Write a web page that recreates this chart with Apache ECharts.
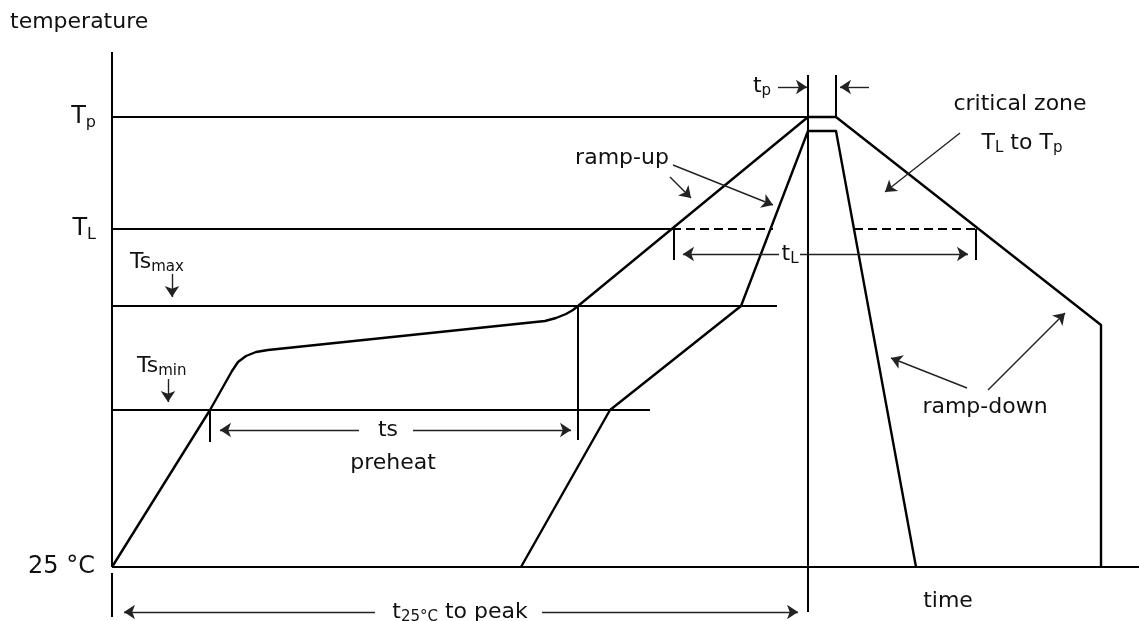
<!DOCTYPE html>
<html>
<head>
<meta charset="utf-8">
<script src="https://cdn.jsdelivr.net/npm/echarts@6/dist/echarts.min.js"></script>
<style>
  html, body { margin: 0; padding: 0; background: #fff; }
  #chart { width: 1139px; height: 621px; }
</style>
</head>
<body>
<div id="chart"></div>
<script>
// Unidades de dibujo: x = tiempo desde el inicio, y = altura sobre la linea de 25 °C
const T25 = 0, TS_MIN = 157, TS_MAX = 261, T_L = 338, T_P = 450;
const T_INNER_TOP = 436;
const T_PEAK_START = 696, T_PEAK_END = 724;

// perfil exterior (limite lento) y perfil interior (limite rapido)
const outerProfile = [
  [0, T25], [98, TS_MIN], [120, 196], [126, 205], [134, 211], [144, 215], [156, 217],
  [433, 246], [444, 249], [454, 253], [461, 257], [466, TS_MAX],
  [T_PEAK_START, T_P], [T_PEAK_END, T_P], [989, 242], [989, T25]
];
const innerProfile = [
  [409, T25], [498, TS_MIN], [629, TS_MAX],
  [T_PEAK_START, T_INNER_TOP], [T_PEAK_END, T_INNER_TOP], [804, T25]
];

// ejes y lineas de referencia
const axisLines = [
  [[0, T25], [0, 515]],
  [[0, T25], [1027, T25]],
  [[0, -6], [0, -50]]
];
const solidGuides = [
  [[0, T_P], [T_PEAK_END, T_P]],
  [[0, T_L], [560, T_L]],
  [[0, TS_MAX], [665, TS_MAX]],
  [[0, TS_MIN], [538, TS_MIN]],
  [[T_PEAK_START, -45], [T_PEAK_START, 492]],
  [[T_PEAK_END, T_P], [T_PEAK_END, 492]],
  [[98, TS_MIN], [98, 125]],
  [[466, TS_MAX], [466, 127]],
  [[562, T_L], [562, 307]],
  [[864, T_L], [864, 307]]
];
const dashedGuides = [
  [[560, T_L], [661, T_L]],
  [[742, T_L], [864, T_L]]
];

// flechas: [desde, hasta], punta al final
const arrows = [
  [[247, 137], [108, 137]], [[301, 137], [459, 137]],
  [[667, 313], [571, 313]], [[688, 313], [856, 313]],
  [[666, 480], [695, 480]], [[757, 480], [728, 480]],
  [[263, -45], [12, -45]], [[430, -45], [686, -45]],
  [[558, 390], [579, 369]], [[561, 402], [661, 362]],
  [[848, 434], [773, 375]],
  [[855, 179], [779, 209]], [[876, 177], [953, 254]],
  [[60, 293], [60, 270]], [[56, 188], [56, 165]]
];

// textos: [x, y, texto, alineacion]
const labels = [
  [-102, 545, '{n|temperature}', 'left'],
  [-16, T_P, '{a|T}{as|p}', 'right'],
  [-16, T_L, '{a|T}{as|L}', 'right'],
  [-17, T25, '{a|25 °C}', 'right'],
  [18, 305, '{m|Ts}{ns|max}', 'left'],
  [25, 201, '{m|Ts}{ns|min}', 'left'],
  [276, 137, '{n|ts}', 'center'],
  [281, 104, '{n|preheat}', 'center'],
  [678, 313, '{n|t}{ns|L}', 'center'],
  [650, 481, '{n|t}{ns|p}', 'center'],
  [510, 409, '{n|ramp-up}', 'center'],
  [908, 463, '{n|critical zone}', 'center'],
  [910, 424, '{m|T}{ns|L}{n| to }{m|T}{ns|p}', 'center'],
  [873, 160, '{n|ramp-down}', 'center'],
  [836, -34, '{n|time}', 'center'],
  [348, -45, '{n|t}{ns|25°C}{n| to peak}', 'center']
];

const FONT = '"DejaVu Sans", "Liberation Sans", Arial, sans-serif';
const INK = '#111';
const rich = {
  a: { fontSize: 24, color: INK, fontFamily: FONT },
  as: { fontSize: 16, color: INK, fontFamily: FONT, padding: [12, 0, 0, 0] },
  m: { fontSize: 22, color: INK, fontFamily: FONT },
  n: { fontSize: 22, color: INK, fontFamily: FONT },
  ns: { fontSize: 15, color: INK, fontFamily: FONT, padding: [10, 0, 0, 0] }
};

const polyline = (paths) => paths.map((p) => ({ coords: p }));

const chart = echarts.init(document.getElementById('chart'), null, { renderer: 'canvas' });
chart.setOption({
  animation: false,
  backgroundColor: '#fff',
  grid: { left: 0, right: 0, top: 0, bottom: 0 },
  xAxis: { type: 'value', min: -112, max: 1027, show: false },
  yAxis: { type: 'value', min: -54, max: 567, show: false },
  series: [
    {
      type: 'lines', coordinateSystem: 'cartesian2d', polyline: true,
      lineStyle: { color: '#000', width: 2, opacity: 1 },
      data: polyline(axisLines.concat(solidGuides))
    },
    {
      type: 'lines', coordinateSystem: 'cartesian2d', polyline: true,
      lineStyle: { color: '#000', width: 2, type: [9, 5], opacity: 1 },
      data: polyline(dashedGuides)
    },
    {
      type: 'lines', coordinateSystem: 'cartesian2d', polyline: true,
      lineStyle: { color: '#000', width: 2.4, opacity: 1, join: 'round' },
      data: polyline([outerProfile, innerProfile])
    },
    {
      type: 'lines', coordinateSystem: 'cartesian2d',
      symbol: ['none', 'arrow'], symbolSize: 11,
      lineStyle: { color: '#222', width: 1.4, opacity: 1 },
      data: polyline(arrows)
    },
    {
      type: 'scatter', symbolSize: 0, silent: true,
      itemStyle: { opacity: 1, color: INK },
      data: labels.map((l) => ({
        value: [l[0], l[1]],
        label: {
          show: true, position: 'inside', formatter: l[2], align: l[3],
          verticalAlign: 'middle', rich: rich, color: INK, opacity: 1,
          textBorderWidth: 0
        }
      }))
    }
  ]
});
</script>
</body>
</html>
